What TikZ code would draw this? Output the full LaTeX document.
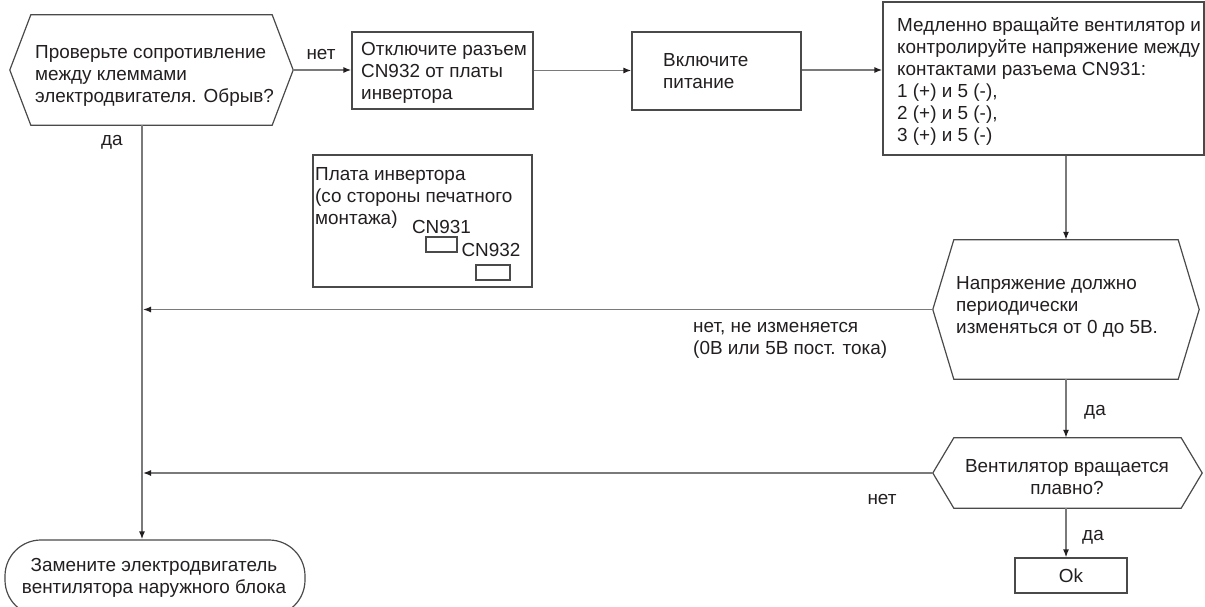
\documentclass[tikz,border=0pt]{standalone}
\usepackage{fontspec}
\setmainfont{Liberation Sans}
\usetikzlibrary{arrows.meta}
\definecolor{linec}{HTML}{7A7A7A}
\definecolor{borderc}{HTML}{4A4A4A}
\definecolor{textc}{HTML}{231F20}
\tikzset{
  conn/.style={draw=linec, line width=1.4pt, -{Latex[length=8pt,width=6pt,color=textc]}},
  frame/.style={draw=borderc, line width=1.2pt, inner sep=0pt},
  hexarea/.style={draw=none, inner sep=0pt},
  txt/.style={text=textc, font=\fontsize{18.9}{22}\selectfont, align=left, inner sep=0pt},
  ctxt/.style={txt, align=center},
}
\newcommand\hexoutline[2]{\draw[draw=borderc, line width=1.2pt] (#1.west) -- ([xshift=#2]#1.north west) -- ([xshift=-#2]#1.north east) -- (#1.east) -- ([xshift=-#2]#1.south east) -- ([xshift=#2]#1.south west) -- cycle;}
\begin{document}
\begin{tikzpicture}[x=1pt,y=-1pt]
\useasboundingbox (0,0) rectangle (1205,607);
\fill[white] (0,0) rectangle (1205,607);
% shapes
\node[hexarea, minimum width=283pt, minimum height=110pt] (q1) at (151.5,70) {};
\hexoutline{q1}{21}
\node[txt, anchor=west] (q1t) at (35,76) {Проверьте сопротивление\\между клеммами\\электродвигателя. Обрыв?};

\node[frame, minimum width=181pt, minimum height=77pt] (b1) at (442.5,70.5) {};
\node[txt, anchor=west] (b1t) at (361,72.5) {Отключите разъем\\CN932 от платы\\инвертора};

\node[frame, minimum width=169pt, minimum height=78pt] (b2) at (716.5,71) {};
\node[txt, anchor=west] (b2t) at (663,71.5) {Включите\\питание};

\node[frame, minimum width=321pt, minimum height=153pt] (b3) at (1043.5,78.5) {};
\node[txt, anchor=west] (b3t) at (897,81) {Медленно вращайте вентилятор и\\контролируйте напряжение между\\контактами разъема CN931:\\1 (+) и 5 (-),\\2 (+) и 5 (-),\\3 (+) и 5 (-)};

\node[frame, minimum width=219pt, minimum height=132pt] (board) at (422.5,221) {};
\node[txt, anchor=west] (boardt) at (315,198) {Плата инвертора\\(со стороны печатного\\монтажа)};
\node[ctxt] (cn1t) at (441.5,227) {CN931};
\node[frame, minimum width=31pt, minimum height=15pt] (cn1) at (441.5,244.5) {};
\node[ctxt] (cn2t) at (491,250) {CN932};
\node[frame, minimum width=34pt, minimum height=15pt] (cn2) at (493,272.5) {};

\node[hexarea, minimum width=266pt, minimum height=139pt] (q2) at (1066,309.5) {};
\hexoutline{q2}{21}
\node[txt, anchor=west] (q2t) at (956,306.5) {Напряжение должно\\периодически\\изменяться от 0 до 5В.};

\node[hexarea, minimum width=269pt, minimum height=70pt] (q3) at (1067.5,473) {};
\hexoutline{q3}{21}
\node[ctxt] (q3t) at (1067,477) {Вентилятор вращается\\плавно?};

\node[frame, minimum width=112pt, minimum height=35pt] (ok) at (1071,575.5) {};
\node[ctxt] (okt) at (1071,575.5) {Ok};

\node[frame, rounded corners=36pt, minimum width=300pt, minimum height=76pt] (end) at (155,578) {};
\node[ctxt] (endt) at (154,578) {Замените электродвигатель\\вентилятора наружного блока};

% connectors
\coordinate (sp) at (142,0);
\draw[conn] (q1.east) -- (q1.east -| b1.west);
\draw[conn] (b1.east) -- (b1.east -| b2.west);
\draw[conn] (b2.east |- q1.east) -- (q1.east -| b3.west);
\draw[conn] (q2.north |- b3.south) -- (q2.north);
\draw[conn] (q2.south) -- (q2.south |- q3.north);
\draw[conn] (q3.south -| q2.south) -- (q2.south |- ok.north);
\draw[conn] (sp |- q1.south) -- (sp |- end.north);
\draw[conn, shorten >=1pt] (q2.west) -- (q2.west -| sp);
\draw[conn, shorten >=1pt] (q3.west) -- (q3.west -| sp);

% labels
\node[ctxt] (l1) at (321,55) {нет};
\node[ctxt] (l2) at (112,142) {да};
\node[txt, anchor=west] (l3) at (693,340) {нет, не изменяется\\(0В или 5В пост. тока)};
\node[ctxt] (l4) at (1095,412) {да};
\node[ctxt] (l5) at (882,500) {нет};
\node[ctxt] (l6) at (1093,537) {да};
\end{tikzpicture}
\end{document}
